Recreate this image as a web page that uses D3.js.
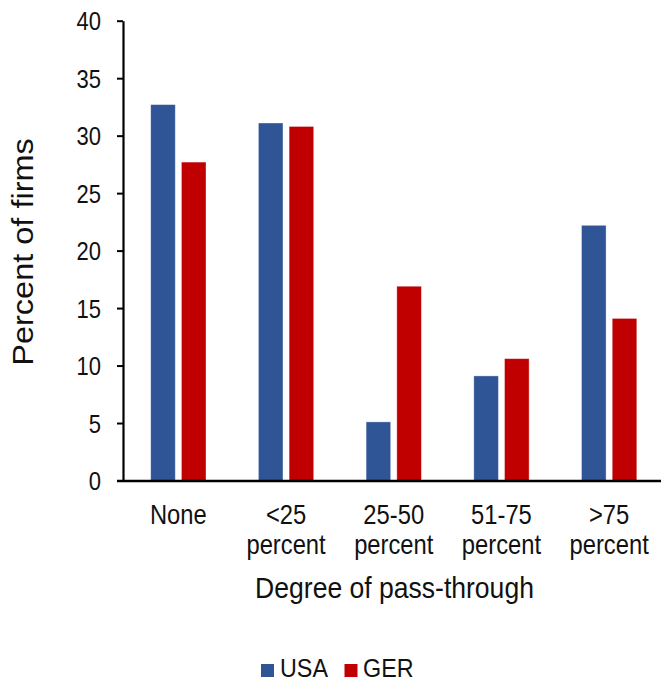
<!DOCTYPE html>
<html>
<head>
<meta charset="utf-8">
<script src="https://cdn.jsdelivr.net/npm/d3@7"></script>
<style>
  html, body { margin: 0; padding: 0; background: #fff; }
  svg { display: block; }
  text { font-family: "Liberation Sans", Arial, Helvetica, sans-serif; fill: #111; }
</style>
</head>
<body>
<svg id="chart" width="661" height="684"></svg>
<script>
// Pass-through of cost changes to prices, share of firms by degree
const categories = [["None"], ["<25", "percent"], ["25-50", "percent"], ["51-75", "percent"], [">75", "percent"]];
const seriesNames = ["USA", "GER"];
const usaValues = [32.7, 31.1, 5.1, 9.1, 22.2];
const gerValues = [27.7, 30.8, 16.9, 10.6, 14.1];
const yTicks = [0, 5, 10, 15, 20, 25, 30, 35, 40];
const colors = { USA: "#2F5597", GER: "#C00000" };
const yTitle = "Percent of firms";
const xTitle = "Degree of pass-through";

const svg = d3.select("#chart");
const squeeze = 0.88; // narrow text rendering

const plotLeft = 123, plotRight = 663, plotTop = 20.7, plotBottom = 480.5;
const catKeys = categories.map(c => c.join(" "));

const x0 = d3.scaleBand().domain(catKeys).range([plotLeft + 1.5, plotRight]).padding(0);
const x1 = d3.scaleBand().domain(seriesNames).range([26.2, 81.5]).paddingInner(0.2).paddingOuter(0);
const y = d3.scaleLinear().domain([0, 40]).range([plotBottom, plotTop]);

const rows = catKeys.map((k, i) => ({ key: k, USA: usaValues[i], GER: gerValues[i] }));

// Bars
const groups = svg.append("g").selectAll("g")
  .data(rows).join("g")
  .attr("transform", d => `translate(${x0(d.key)},0)`);

groups.selectAll("rect")
  .data(d => seriesNames.map(s => ({ s, v: d[s] })))
  .join("rect")
  .attr("x", d => x1(d.s))
  .attr("width", x1.bandwidth())
  .attr("y", d => y(d.v))
  .attr("height", d => y(0) - y(d.v))
  .attr("fill", d => colors[d.s])
  .attr("stroke", "#ffffff")
  .attr("stroke-opacity", 0.45)
  .attr("stroke-width", 0.8);

// Y axis
const yAxis = svg.append("g")
  .attr("transform", `translate(${plotLeft},0)`)
  .call(d3.axisLeft(y).tickValues(yTicks).tickSize(6).tickPadding(16).tickSizeOuter(0));
yAxis.select(".domain").attr("stroke", "#000").attr("stroke-width", 2.2);
yAxis.selectAll(".tick line").attr("stroke", "#000").attr("stroke-width", 2);
yAxis.selectAll(".tick text")
  .attr("font-size", 25)
  .attr("dy", "0.36em")
  .each(function () {
    const t = d3.select(this);
    const xx = +t.attr("x");
    t.attr("x", null).attr("transform", `translate(${xx},0) scale(${squeeze},1)`);
  });

// X axis baseline
svg.append("line")
  .attr("x1", plotLeft - 6).attr("x2", 661)
  .attr("y1", y(0) + 0.5).attr("y2", y(0) + 0.5)
  .attr("stroke", "#000").attr("stroke-width", 2.6);

// Category labels
const catLabels = svg.append("g").selectAll("g")
  .data(categories).join("g")
  .attr("transform", (d, i) => `translate(${x0(catKeys[i]) + x0.bandwidth() / 2},524) scale(${squeeze},1)`);
catLabels.selectAll("text")
  .data(d => d).join("text")
  .attr("text-anchor", "middle")
  .attr("font-size", 27)
  .attr("y", (d, i) => i * 30)
  .text(d => d);

// Axis titles
svg.append("text")
  .attr("transform", `translate(394.5,598) scale(0.9,1)`)
  .attr("text-anchor", "middle")
  .attr("font-size", 29.5)
  .text(xTitle);

svg.append("text")
  .attr("transform", `translate(33,252) rotate(-90) scale(1,${squeeze})`)
  .attr("text-anchor", "middle")
  .attr("font-size", 32.5)
  .text(yTitle);

// Legend
const legendItems = [
  { name: "USA", sx: 261, tx: 280 },
  { name: "GER", sx: 344.5, tx: 363 }
];
const legend = svg.append("g");
legend.selectAll("rect")
  .data(legendItems).join("rect")
  .attr("x", d => d.sx).attr("y", 664)
  .attr("width", 13).attr("height", 13)
  .attr("fill", d => colors[d.name]);
legend.selectAll("text")
  .data(legendItems).join("text")
  .attr("transform", d => `translate(${d.tx},677) scale(${squeeze},1)`)
  .attr("font-size", 26.5)
  .text(d => d.name);
</script>
</body>
</html>
